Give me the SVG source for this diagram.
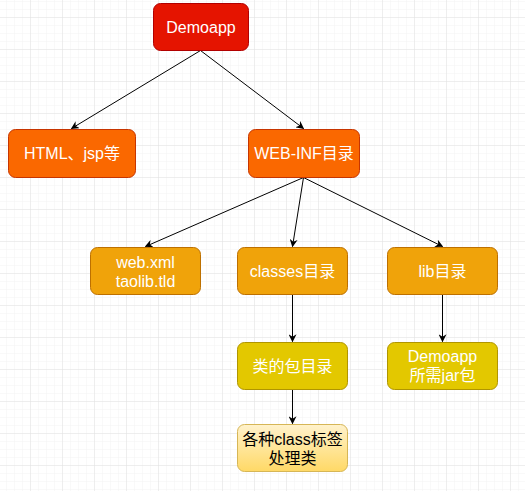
<svg xmlns="http://www.w3.org/2000/svg" width="525" height="491" viewBox="0 0 525 491">
<defs>
<pattern id="minor" x="-1" y="2" width="8" height="8" patternUnits="userSpaceOnUse">
<path d="M8 0V8M0 8H8" fill="none" stroke="#f3f3f3" stroke-width="1"/>
</pattern>
<pattern id="major" x="-1" y="-14" width="32" height="32" patternUnits="userSpaceOnUse">
<path d="M32 0V32M0 32H32" fill="none" stroke="#e2e2e2" stroke-width="1"/>
</pattern>
<linearGradient id="g1" x1="0" y1="0" x2="0" y2="1">
<stop offset="0" stop-color="#fff2cc"/>
<stop offset="1" stop-color="#ffd966"/>
</linearGradient>
<marker id="arr" viewBox="0 0 10 10" refX="9" refY="5" markerWidth="8" markerHeight="8" orient="auto" markerUnits="userSpaceOnUse">
<path d="M0 0L10 5L0 10L3 5Z" fill="#000"/>
</marker>
</defs>
<style>
text{font-family:"Liberation Sans",Arial,"Noto Sans CJK SC",sans-serif;font-size:16px;text-anchor:middle;fill:#fff}
.red{fill:#e51400;stroke:#b20000}
.org{fill:#fa6800;stroke:#c73500}
.amb{fill:#f0a30a;stroke:#bd7000}
.yel{fill:#e3c800;stroke:#b09500}
.lt{fill:url(#g1);stroke:#d6b656}
.e{fill:none;stroke:#000;stroke-width:1;marker-end:url(#arr)}
</style>
<rect width="525" height="491" fill="#fff"/>
<rect width="525" height="491" fill="url(#minor)"/>
<rect width="525" height="491" fill="url(#major)"/>
<g id="edges">
<path class="e" d="M200.5 50.5L71.5 128.5"/>
<path class="e" d="M200.5 50.5L303.5 128.5"/>
<path class="e" d="M303.5 177.5L145.5 246.5"/>
<path class="e" d="M303.5 177.5L292.5 246.5"/>
<path class="e" d="M303.5 177.5L442.5 246.5"/>
<path class="e" d="M292.5 294.5V341.5"/>
<path class="e" d="M442.5 294.5V341.5"/>
<path class="e" d="M292.5 389.5V423.5"/>
</g>
<g id="n_demoapp"><rect class="red" x="153.5" y="3.5" width="95" height="47" rx="7"/><text x="201" y="33">Demoapp</text></g>
<g id="n_html"><rect class="org" x="8.5" y="129.5" width="127" height="48" rx="7"/><text x="72" y="159">HTML、jsp等</text></g>
<g id="n_webinf"><rect class="org" x="248.5" y="129.5" width="111" height="48" rx="7"/><text x="304" y="159">WEB-INF目录</text></g>
<g id="n_webxml"><rect class="amb" x="90.5" y="247.5" width="110" height="47" rx="7"/><text x="145.5" y="268">web.xml</text><text x="145.5" y="287">taolib.tld</text></g>
<g id="n_classes"><rect class="amb" x="237.5" y="247.5" width="110" height="47" rx="7"/><text x="292.5" y="277">classes目录</text></g>
<g id="n_lib"><rect class="amb" x="387.5" y="247.5" width="110" height="47" rx="7"/><text x="442.5" y="277">lib目录</text></g>
<g id="n_pkg"><rect class="yel" x="237.5" y="342.5" width="110" height="47" rx="7"/><text x="292.5" y="372">类的包目录</text></g>
<g id="n_jar"><rect class="yel" x="387.5" y="342.5" width="110" height="47" rx="7"/><text x="442.5" y="362">Demoapp</text><text x="442.5" y="381">所需jar包</text></g>
<g id="n_cls"><rect class="lt" x="237.5" y="424.5" width="110" height="47" rx="7"/><text x="292.5" y="445" style="fill:#000">各种class标签</text><text x="292.5" y="464" style="fill:#000">处理类</text></g>
</svg>
